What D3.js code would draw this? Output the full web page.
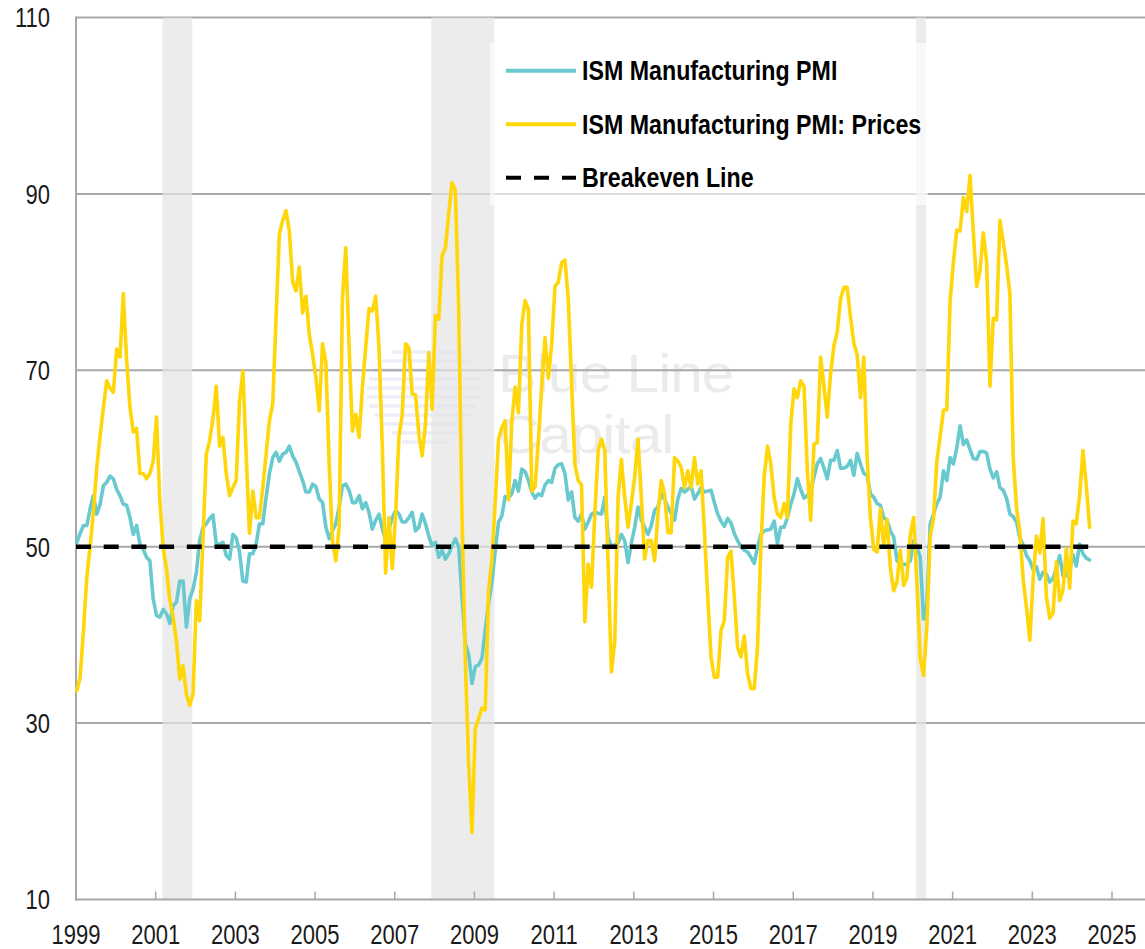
<!DOCTYPE html>
<html><head><meta charset="utf-8">
<script src="https://cdn.jsdelivr.net/npm/d3@7"></script>
<style>
body{margin:0;background:#fff;}
svg{display:block;}
.narrow{font-family:'Liberation Sans Narrow','Arial Narrow','Liberation Sans',Arial,sans-serif;}
</style></head><body>
<svg id="chart" width="1145" height="949"></svg>
<script>
// ---- data (monthly, Jan 1999 .. Jun 2024) ----
const startYear = 1999;
const pmi = [
  50.5, 51.5, 52.4, 52.4, 54.3, 55.8, 53.7, 54.8, 56.9, 57.3, 58.0, 57.7, // 1999
  56.5, 55.8, 54.8, 54.7, 53.3, 51.4, 52.4, 50.3, 49.7, 48.8, 48.4, 44.1, // 2000
  42.2, 42.0, 42.9, 42.4, 41.3, 43.3, 43.7, 46.1, 46.1, 40.9, 44.1, 45.2, // 2001
  47.1, 50.7, 52.2, 52.6, 53.2, 53.6, 50.3, 50.3, 50.5, 49.0, 48.6, 51.4, // 2002
  51.0, 49.4, 46.1, 46.0, 49.2, 49.2, 50.3, 52.6, 52.6, 55.6, 58.3, 60.1, // 2003
  60.7, 59.7, 60.5, 60.7, 61.4, 60.3, 59.6, 58.5, 57.5, 56.2, 56.2, 57.1, // 2004
  56.8, 55.4, 55.0, 52.2, 50.9, 51.8, 52.6, 54.5, 56.9, 57.1, 56.4, 55.0, // 2005
  55.0, 55.8, 54.3, 55.0, 53.9, 52.0, 53.0, 53.7, 52.0, 50.7, 52.0, 53.3, // 2006
  54.1, 53.7, 52.8, 52.8, 53.3, 53.9, 51.8, 52.2, 53.7, 52.6, 51.2, 50.1, // 2007
  50.5, 48.8, 49.6, 48.6, 49.2, 50.1, 50.9, 50.0, 44.3, 39.0, 37.8, 34.5, // 2008
  36.4, 36.6, 37.3, 40.6, 43.5, 46.0, 49.5, 52.8, 53.5, 55.7, 55.5, 56.0, // 2009
  57.5, 56.3, 58.8, 58.5, 57.5, 56.2, 55.5, 56.0, 55.8, 57.0, 57.5, 57.3, // 2010
  58.9, 59.3, 59.4, 58.3, 55.3, 56.2, 53.3, 52.9, 53.7, 52.0, 52.8, 53.7, // 2011
  53.9, 53.8, 53.7, 55.6, 51.1, 50.0, 50.2, 50.4, 51.4, 50.7, 48.2, 50.4, // 2012
  52.2, 54.5, 53.0, 52.2, 51.4, 52.4, 54.1, 54.5, 56.0, 55.4, 54.5, 53.8, // 2013
  53.0, 55.4, 56.6, 56.2, 56.5, 56.9, 55.4, 56.0, 56.7, 56.2, 56.3, 56.4, // 2014
  55.0, 53.7, 52.9, 52.3, 53.2, 52.7, 51.5, 50.7, 50.0, 49.6, 49.4, 48.8, // 2015
  48.1, 50.0, 51.4, 51.8, 51.9, 52.0, 52.9, 50.4, 52.2, 52.2, 53.3, 54.8, // 2016
  56.0, 57.7, 56.5, 55.5, 55.8, 56.3, 57.9, 59.4, 60.0, 58.9, 57.7, 59.8, // 2017
  59.8, 60.9, 58.9, 58.9, 59.1, 59.8, 58.1, 60.6, 59.4, 58.3, 58.1, 56.0, // 2018
  55.6, 54.9, 54.7, 53.3, 53.0, 51.8, 51.1, 48.4, 48.0, 48.0, 48.0, 48.4, // 2019
  50.7, 50.0, 48.8, 41.8, 43.5, 52.6, 53.7, 54.9, 55.6, 58.6, 57.5, 60.1, // 2020
  59.4, 61.2, 63.7, 61.6, 62.1, 61.0, 60.0, 59.9, 60.8, 60.8, 60.6, 58.8, // 2021
  57.8, 58.5, 56.7, 56.4, 55.5, 53.7, 53.4, 52.8, 51.0, 50.2, 49.0, 48.4, // 2022
  47.4, 47.7, 46.3, 47.1, 46.9, 46.0, 46.4, 47.6, 49.0, 46.7, 46.7, 47.4, // 2023
  49.1, 47.8, 50.3, 49.2, 48.7, 48.5                                      // 2024
];
const prices = [
  33.7, 35.2, 40.5, 46.5, 50.0, 54.0, 59.0, 62.5, 65.8, 68.8, 68.0, 67.5, // 1999
  72.4, 71.5, 78.7, 71.1, 65.8, 63.0, 63.4, 58.3, 58.3, 57.7, 58.3, 59.7, // 2000
  64.7, 55.2, 49.9, 47.5, 44.0, 42.0, 39.3, 35.0, 36.5, 33.3, 32.0, 33.3, // 2001
  43.9, 41.6, 51.0, 60.5, 62.0, 64.5, 68.2, 61.4, 62.4, 58.3, 55.8, 56.7, // 2002
  57.5, 66.5, 69.9, 60.5, 51.5, 56.3, 53.3, 53.3, 56.7, 60.5, 64.3, 66.2, // 2003
  76.0, 85.4, 87.0, 88.1, 85.8, 80.0, 79.0, 81.7, 76.5, 78.4, 74.1, 71.8, // 2004
  69.2, 65.4, 73.0, 70.9, 59.4, 50.7, 48.4, 52.2, 78.3, 83.9, 72.6, 63.1, // 2005
  65.0, 62.4, 68.0, 72.6, 77.0, 76.7, 78.4, 72.6, 61.3, 47.0, 53.3, 47.5, // 2006
  53.7, 62.4, 65.0, 73.0, 72.6, 67.3, 67.2, 62.8, 60.3, 63.9, 72.0, 65.6, // 2007
  76.2, 75.8, 83.0, 83.9, 87.7, 91.3, 90.4, 77.0, 53.5, 37.0, 25.5, 17.6, // 2008
  29.4, 30.5, 31.7, 31.5, 45.0, 48.5, 55.0, 62.2, 63.5, 64.3, 55.3, 64.2, // 2009
  68.1, 65.2, 75.2, 77.9, 76.9, 56.3, 56.8, 62.0, 68.1, 73.7, 69.1, 72.9, // 2010
  79.5, 80.0, 82.2, 82.5, 78.1, 68.6, 59.3, 57.5, 57.0, 41.5, 48.0, 45.4, // 2011
  53.7, 60.9, 62.2, 60.9, 48.0, 35.8, 39.3, 55.6, 59.9, 55.6, 52.2, 54.9, // 2012
  57.9, 62.2, 55.6, 48.6, 50.7, 50.7, 48.4, 53.7, 57.5, 56.0, 51.6, 51.6, // 2013
  60.1, 59.7, 59.0, 56.7, 58.6, 56.7, 60.1, 57.1, 58.6, 51.8, 44.3, 37.5, // 2014
  35.2, 35.2, 40.5, 41.6, 48.8, 49.5, 44.3, 38.6, 37.5, 39.9, 35.6, 33.9, // 2015
  33.9, 38.6, 49.9, 57.9, 61.4, 59.4, 55.6, 53.7, 53.3, 54.9, 53.3, 63.9, // 2016
  67.9, 66.9, 68.8, 68.2, 58.6, 53.0, 61.6, 61.8, 71.5, 68.2, 64.7, 69.6, // 2017
  72.8, 74.3, 78.1, 79.4, 79.4, 76.0, 73.1, 71.8, 66.9, 71.5, 60.1, 53.3, // 2018
  49.7, 49.4, 54.3, 50.1, 53.1, 47.6, 45.0, 46.0, 49.6, 45.6, 46.5, 51.4, // 2019
  53.3, 45.9, 37.4, 35.4, 41.0, 51.2, 53.2, 59.7, 62.5, 65.5, 65.5, 77.9, // 2020
  82.3, 85.9, 85.8, 89.6, 88.0, 92.1, 85.6, 79.5, 81.3, 85.6, 82.3, 68.2, // 2021
  75.9, 75.7, 87.0, 84.6, 81.9, 78.7, 60.1, 54.4, 51.6, 46.3, 43.1, 39.4, // 2022
  46.3, 51.2, 49.3, 53.2, 44.3, 41.9, 42.5, 48.3, 43.9, 45.1, 49.8, 45.3, // 2023
  52.9, 52.6, 55.8, 60.9, 57.0, 52.2                                      // 2024
];
const breakeven = 50;
const recessions = [["2001-03", "2001-12"], ["2007-12", "2009-07"], ["2020-02", "2020-05"]];
const yTicks = [10, 30, 50, 70, 90, 110];
const xTicks = [1999, 2001, 2003, 2005, 2007, 2009, 2011, 2013, 2015, 2017, 2019, 2021, 2023, 2025];
const legendLabels = ["ISM Manufacturing PMI", "ISM Manufacturing PMI: Prices", "Breakeven Line"];
const watermarkLines = ["Blue Line", "Capital"];

// ---- drawing ----
const svg = d3.select("#chart");
const W = 1145;
const x = d3.scaleLinear().domain([1999, 2025]).range([76, 1112]);
const y = d3.scaleLinear().domain([10, 110]).range([899.5, 17.5]);
const tOf = i => startYear + (i + 0.25) / 12;
const ym = s => { const [a, b] = s.split("-").map(Number); return a + (b - 1) / 12; };
const COL_PMI = "#68c9cf", COL_PR = "#ffd60a", GRID = "#a8a8a8";

// narrow-text helper: condensed look via horizontal scale
function narrowText(sel, px, py, sx) {
  return sel.attr("class", "narrow")
    .attr("transform", `translate(${px},${py}) scale(${sx},1)`);
}

// watermark
const wm = svg.append("g");
const stripes = [[392,462],[382,470],[374,476],[369,478],[367,478],[367,478],[369,476],[374,472],[382,466],[392,458],[402,450]];
stripes.forEach((s, i) => {
  wm.append("line").attr("x1", s[0]).attr("x2", s[1])
    .attr("y1", 352 + i * 9).attr("y2", 352 + i * 9)
    .attr("stroke", "#eceef9").attr("stroke-width", 3.5);
});
watermarkLines.forEach((t, i) => {
  wm.append("text")
    .attr("transform", `translate(498,${392 + i * 61}) scale(1.08,1)`)
    .attr("font-family", "'Liberation Sans', Arial, sans-serif")
    .attr("font-size", 54).attr("letter-spacing", -0.8)
    .attr("fill", "#ebebeb").text(t);
});

// gridlines
svg.append("g").selectAll("line").data(yTicks.filter(v => v > 10)).join("line")
  .attr("x1", 76).attr("x2", W).attr("y1", d => y(d)).attr("y2", d => y(d))
  .attr("stroke", GRID).attr("stroke-width", 2);

// recession shading
svg.append("g").selectAll("rect").data(recessions).join("rect")
  .attr("x", d => x(ym(d[0]))).attr("width", d => x(ym(d[1])) - x(ym(d[0])))
  .attr("y", y(110)).attr("height", y(10) - y(110))
  .attr("fill", "#e4e4e4").attr("fill-opacity", 0.72);

// axes lines
svg.append("line").attr("x1", 76).attr("x2", 76).attr("y1", y(110) - 1).attr("y2", y(10) + 1)
  .attr("stroke", GRID).attr("stroke-width", 2);
svg.append("line").attr("x1", 75).attr("x2", W).attr("y1", y(10)).attr("y2", y(10))
  .attr("stroke", GRID).attr("stroke-width", 2);
svg.append("g").selectAll("line").data(xTicks.slice(1)).join("line")
  .attr("x1", d => x(d)).attr("x2", d => x(d)).attr("y1", y(10)).attr("y2", y(10) - 8)
  .attr("stroke", GRID).attr("stroke-width", 1.5);

// tick labels
const yl = svg.append("g");
yTicks.forEach(v => {
  narrowText(yl.append("text"), 50, y(v), 0.8)
    .attr("dy", "0.36em").attr("text-anchor", "end")
    .attr("font-size", 27.5).attr("fill", "#1a1a1a").text(v);
});
const xl = svg.append("g");
xTicks.forEach(v => {
  narrowText(xl.append("text"), x(v), 944, 0.8)
    .attr("text-anchor", "middle")
    .attr("font-size", 27.5).attr("fill", "#1a1a1a").text(v);
});

// series
const line = d3.line().x((d, i) => x(tOf(i))).y(d => y(d));
svg.append("path").datum(pmi).attr("d", line).attr("fill", "none")
  .attr("stroke", COL_PMI).attr("stroke-width", 3.6).attr("stroke-linejoin", "round").attr("stroke-linecap", "round");
svg.append("path").datum(prices).attr("d", line).attr("fill", "none")
  .attr("stroke", COL_PR).attr("stroke-width", 3.6).attr("stroke-linejoin", "round").attr("stroke-linecap", "round");
const beData = pmi.map(() => breakeven);
svg.append("path").datum(beData).attr("d", d3.line().x((d, i) => x(startYear + i / 12)).y(d => y(d)))
  .attr("fill", "none").attr("stroke", "#000").attr("stroke-width", 4.5)
  .attr("stroke-dasharray", "15 12.7");

// legend
const lg = svg.append("g");
lg.append("rect").attr("x", 490).attr("y", 43).attr("width", 438).attr("height", 162)
  .attr("fill", "#fff").attr("fill-opacity", 0.62);
const legendStyles = [
  { stroke: COL_PMI, dash: null, w: 4 },
  { stroke: COL_PR, dash: null, w: 4 },
  { stroke: "#000", dash: "15 13", w: 4 }
];
legendLabels.forEach((t, i) => {
  const cy = 70.7 + i * 53.5;
  const l = lg.append("line").attr("x1", 506).attr("x2", 576).attr("y1", cy).attr("y2", cy)
    .attr("stroke", legendStyles[i].stroke).attr("stroke-width", legendStyles[i].w);
  if (legendStyles[i].dash) l.attr("stroke-dasharray", legendStyles[i].dash);
  narrowText(lg.append("text"), 582, cy, 0.86)
    .attr("dy", "0.36em")
    .attr("font-size", 27).attr("font-weight", "bold").attr("fill", "#000").text(t);
});
</script>
</body></html>
